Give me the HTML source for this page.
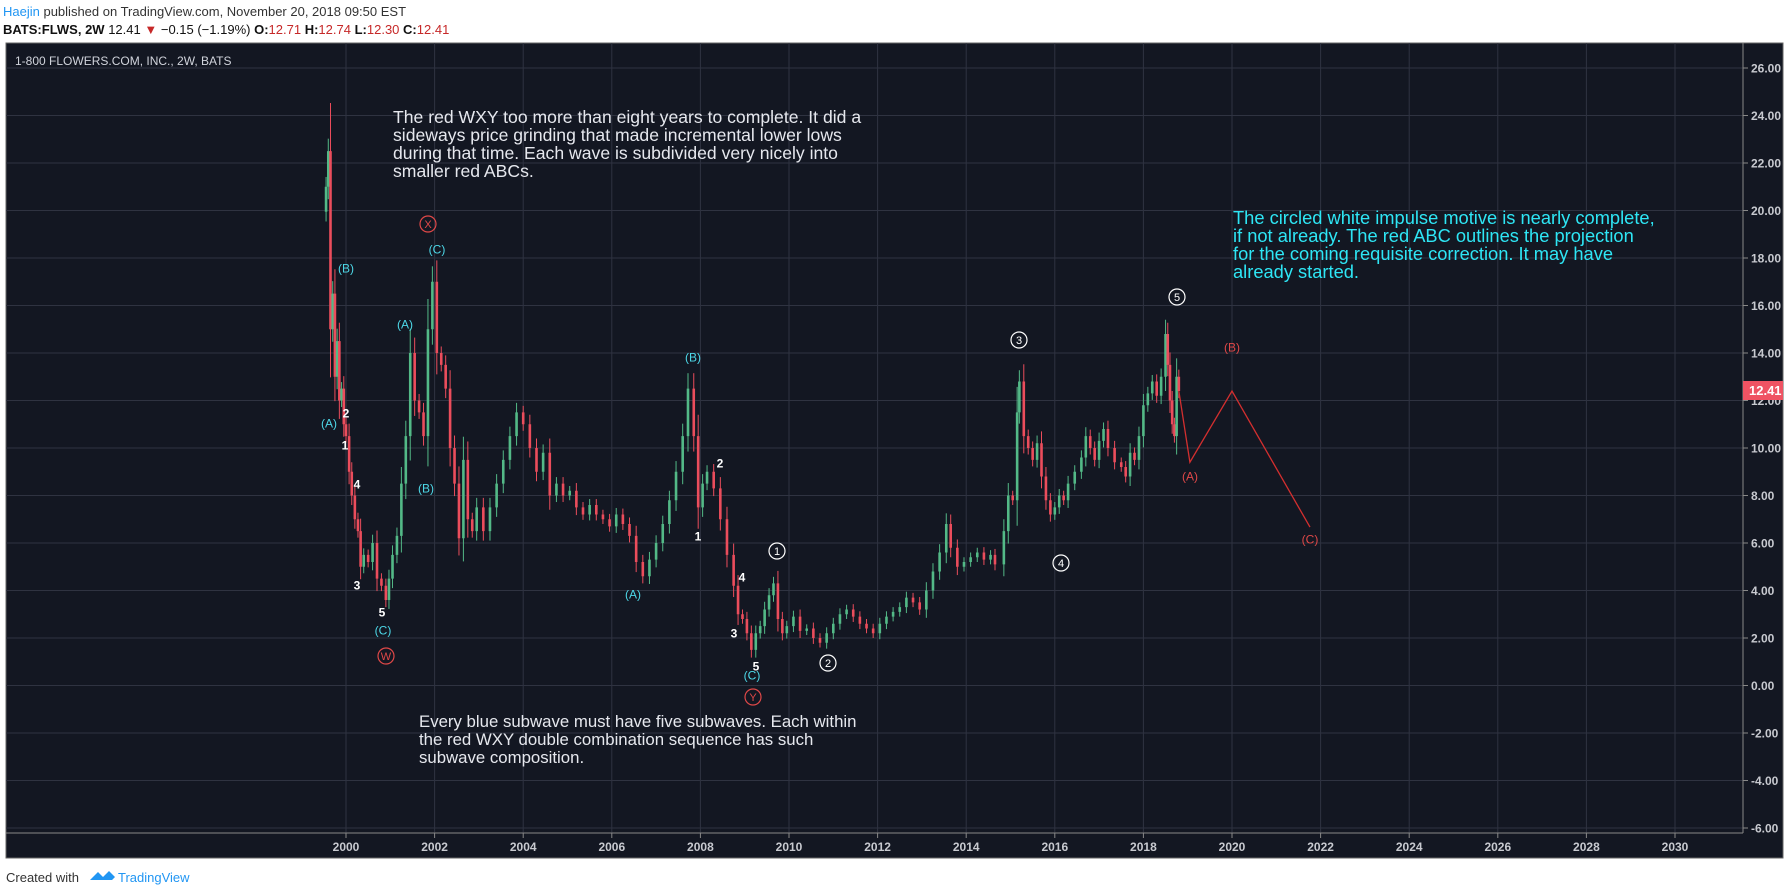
<!DOCTYPE html>
<html><head><meta charset="utf-8">
<style>
html,body{margin:0;padding:0;background:#fff;width:1789px;height:895px;overflow:hidden;font-family:"Liberation Sans",sans-serif;}
svg{display:block}
</style></head>
<body>
<svg id="chart" width="1789" height="895" viewBox="0 0 1789 895" xmlns="http://www.w3.org/2000/svg" font-family="Liberation Sans, sans-serif">
  <rect x="0" y="0" width="1789" height="895" fill="#ffffff"/>
  <text x="3" y="16" font-size="13" fill="#333"><tspan fill="#2196f3">Haejin</tspan> published on TradingView.com, November 20, 2018 09:50 EST</text>
  <text x="3" y="34" font-size="13" fill="#111"><tspan font-weight="bold">BATS:FLWS, 2W</tspan>  12.41 <tspan fill="#c62828">▼</tspan> −0.15 (−1.19%) <tspan font-weight="bold">O:</tspan><tspan fill="#c62828">12.71</tspan> <tspan font-weight="bold">H:</tspan><tspan fill="#c62828">12.74</tspan> <tspan font-weight="bold">L:</tspan><tspan fill="#c62828">12.30</tspan> <tspan font-weight="bold">C:</tspan><tspan fill="#c62828">12.41</tspan></text>
  <rect x="6" y="43" width="1777" height="815" fill="#131722" stroke="#666" stroke-width="1"/>
  <g id="grid"></g>
  <line x1="1743" y1="43" x2="1743" y2="833" stroke="#888" stroke-width="1"/>
  <line x1="6" y1="833" x2="1743" y2="833" stroke="#888" stroke-width="1"/>
  <g id="yaxis"></g>
  <g id="xaxis"></g>
  <text x="15" y="65" font-size="12" fill="#d1d4dc">1-800 FLOWERS.COM, INC., 2W, BATS</text>
  <g id="candles"></g>
  <g id="proj"></g>
  <g id="labels"></g>
  <g font-size="17.6" fill="#e6e8ee">
    <text x="393" y="123">The red WXY too more than eight years to complete. It did a</text>
    <text x="393" y="141">sideways price grinding that made incremental lower lows</text>
    <text x="393" y="159">during that time. Each wave is subdivided very nicely into</text>
    <text x="393" y="177">smaller red ABCs.</text>
  </g>
  <g font-size="16.8" fill="#e6e8ee">
    <text x="419" y="727">Every blue subwave must have five subwaves. Each within</text>
    <text x="419" y="745">the red WXY double combination sequence has such</text>
    <text x="419" y="763">subwave composition.</text>
  </g>
  <g font-size="18.3" fill="#2ee6f5">
    <text x="1233" y="224">The circled white impulse motive is nearly complete,</text>
    <text x="1233" y="242">if not already. The red ABC outlines the projection</text>
    <text x="1233" y="260">for the coming requisite correction. It may have</text>
    <text x="1233" y="278">already started.</text>
  </g>
  <g>
    <rect x="1743" y="381" width="40" height="19" fill="#ef5363"/>
    <text x="1749" y="395" font-size="13" font-weight="bold" fill="#fff">12.41</text>
  </g>
  <text x="6" y="882" font-size="13" fill="#333">Created with</text>
  <g>
    <path d="M90 880 l8 -8 l5 5 l6 -6 l6 6 l-3 3 z" fill="#2196f3"/>
    <text x="118" y="882" font-size="13" fill="#2196f3">TradingView</text>
  </g>
</svg>
<script>
const yTicks = [26,24,22,20,18,16,14,12,10,8,6,4,2,0,-2,-4,-6];
const xTicks = [2000,2002,2004,2006,2008,2010,2012,2014,2016,2018,2020,2022,2024,2026,2028,2030];
const dates = [1999.55,1999.6,1999.65,1999.7,1999.75,1999.8,1999.85,1999.9,1999.95,2000.0,2000.07,2000.13,2000.2,2000.27,2000.33,2000.4,2000.5,2000.6,2000.7,2000.8,2000.9,2000.97,2001.05,2001.15,2001.25,2001.35,2001.45,2001.55,2001.65,2001.75,2001.85,2001.95,2002.05,2002.15,2002.25,2002.35,2002.45,2002.55,2002.65,2002.75,2002.85,2002.95,2003.1,2003.25,2003.4,2003.55,2003.7,2003.85,2004.0,2004.15,2004.3,2004.45,2004.6,2004.75,2004.9,2005.05,2005.2,2005.35,2005.5,2005.65,2005.8,2005.95,2006.1,2006.25,2006.4,2006.55,2006.7,2006.85,2007.0,2007.15,2007.3,2007.45,2007.6,2007.72,2007.85,2007.95,2008.05,2008.15,2008.3,2008.45,2008.6,2008.75,2008.85,2008.95,2009.05,2009.15,2009.25,2009.35,2009.45,2009.55,2009.65,2009.75,2009.85,2009.95,2010.1,2010.25,2010.4,2010.55,2010.7,2010.85,2011.0,2011.15,2011.3,2011.45,2011.6,2011.75,2011.9,2012.05,2012.2,2012.35,2012.5,2012.65,2012.8,2012.95,2013.1,2013.25,2013.4,2013.55,2013.65,2013.8,2013.95,2014.1,2014.25,2014.4,2014.55,2014.65,2014.85,2014.95,2015.05,2015.15,2015.2,2015.3,2015.4,2015.5,2015.6,2015.7,2015.8,2015.9,2016.0,2016.1,2016.2,2016.3,2016.45,2016.6,2016.7,2016.8,2016.9,2017.0,2017.1,2017.2,2017.35,2017.5,2017.6,2017.7,2017.8,2017.9,2018.0,2018.1,2018.2,2018.3,2018.4,2018.5,2018.55,2018.6,2018.65,2018.7,2018.75,2018.8];
const closes = [21,22.5,15,16.5,13,14.5,12,12.5,11,10.5,9,8,7,6.5,5,5.5,5.2,6,4.5,4.2,3.6,4.5,5.5,6.3,8.5,10.5,14,12,11.5,10.5,15,17,14,13.5,12.5,10,8.5,6.2,9.5,7,6.5,7.5,6.5,7.5,8.5,9.5,10.5,11.5,11,10,9,9.8,8,8.5,8,8.2,7.5,7.2,7.6,7.2,7,6.7,7.2,6.8,6.3,5.2,4.6,5.3,6,6.8,7.8,9,10.5,12.5,10.5,7.5,8.5,9,8.3,7,5.5,4.2,3,2.8,2.2,1.5,2.2,2.5,3.2,3.8,4.3,2.8,2.2,2.5,2.9,2.3,2.4,2,1.8,2.2,2.6,3,3.2,2.9,2.6,2.4,2.2,2.6,2.9,3.1,3.3,3.7,3.5,3.2,4,4.8,5.6,6.8,5.8,5,5.2,5.4,5.6,5.3,5.5,5.1,6.5,8,7.8,11.5,12.8,10.5,10,9.5,10.2,8.8,7.8,7.2,7.5,8,7.8,8.5,9,9.6,10.5,10,9.5,10.3,10.8,10,9.4,9.2,8.8,9.8,9.5,10.5,11.8,12.3,12.8,12.2,13,14.8,13.5,12,11,10.5,13,12.4];
const projDates = [2018.8,2019.05,2020.0,2021.76];
const projPrices = [12.4,9.4,12.4,6.67];

const NS="http://www.w3.org/2000/svg";
const X=y=>346+(y-2000)*44.3;
const Y=p=>68+(26-p)*23.75;
function mk(tag,attrs,parent){const e=document.createElementNS(NS,tag);for(const k in attrs)e.setAttribute(k,attrs[k]);parent.appendChild(e);return e;}
const grid=document.getElementById('grid'),ya=document.getElementById('yaxis'),xa=document.getElementById('xaxis');
yTicks.forEach(t=>{
  const l=mk('line',{x1:6,x2:1743,y1:Y(t),y2:Y(t),stroke:'#2f3341','stroke-width':1},grid);
  
  
  mk('line',{x1:1743,x2:1748,y1:Y(t),y2:Y(t),stroke:'#888'},ya);
  const tx=mk('text',{x:1751,y:Y(t)+4.5,'font-size':12,'font-weight':'bold',fill:'#c8cad0'},ya);
  tx.textContent=t.toFixed(2);
  
  
});
xTicks.forEach(t=>{
  const l=mk('line',{x1:X(t),x2:X(t),y1:43,y2:833,stroke:'#2f3341','stroke-width':1},grid);
  
  
  mk('line',{x1:X(t),x2:X(t),y1:833,y2:838,stroke:'#888'},xa);
  const tx=mk('text',{x:X(t),y:851,'font-size':12,'font-weight':'bold',fill:'#c8cad0','text-anchor':'middle'},xa);
  tx.textContent=t;
  
  
});
const cg=document.getElementById('candles');
for(let i=0;i<closes.length;i++){
  const o=i>0?closes[i-1]:closes[i]*0.95, c=closes[i];
  const up=c>=o, col=up?'#53b987':'#eb4d5c';
  const d=Math.abs(c-o), hi=Math.max(o,c)+d*0.25+0.15, lo=Math.min(o,c)-d*0.25-0.15;
  const x=X(dates[i]);
  const w=mk('line',{x1:x,x2:x,y1:Y(hi),y2:Y(lo),stroke:col,'stroke-width':1},cg);
  
  
  const b=mk('rect',{x:x-1.3,y:Y(Math.max(o,c)),width:2.6,height:Math.max(1,Y(Math.min(o,c))-Y(Math.max(o,c))),fill:col},cg);
  
  
}
const pg=document.getElementById('proj');
const pl=mk('polyline',{points:projDates.map((d,i)=>X(d)+','+Y(projPrices[i])).join(' '),fill:'none',stroke:'#d32f2f','stroke-width':1.3},pg);



const lg=document.getElementById('labels');
const CY='#4dd8e8',RD='#e04848',WH='#ffffff';
const labs=[
 ['(C)',437,249,CY],['(B)',346,268,CY],['(A)',405,324,CY],['2',346,413,WH],['(A)',329,423,CY],['1',345,445,WH],
 ['(B)',426,488,CY],['4',357,484,WH],['3',357,585,WH],['5',382,612,WH],['(C)',383,630,CY],
 ['(B)',693,357,CY],['2',720,463,WH],['1',698,536,WH],['(A)',633,594,CY],['4',742,577,WH],['3',734,633,WH],['5',756,666,WH],['(C)',752,675,CY],
 ['(B)',1232,347,RD],['(A)',1190,476,RD],['(C)',1310,539,RD]];
labs.forEach(a=>{
  const t=mk('text',{x:a[1],y:a[2]+4.5,'font-size':12,'font-weight':a[3]===WH?'bold':'normal',fill:a[3],'text-anchor':'middle'},lg);
  t.textContent=a[0];
  
  
});
const circ=[['X',428,224,RD],['W',386,656,RD],['Y',753,697,RD],['1',777,551,WH],['2',828,663,WH],['3',1019,340,WH],['4',1061,563,WH],['5',1177,297,WH]];
circ.forEach(a=>{
  const c=mk('circle',{cx:a[1],cy:a[2],r:8,fill:'none',stroke:a[3],'stroke-width':1.2},lg);
  
  
  const t=mk('text',{x:a[1],y:a[2]+4,'font-size':11,fill:a[3],'text-anchor':'middle'},lg);
  t.textContent=a[0];
  
  
});
</script>
</body></html>
